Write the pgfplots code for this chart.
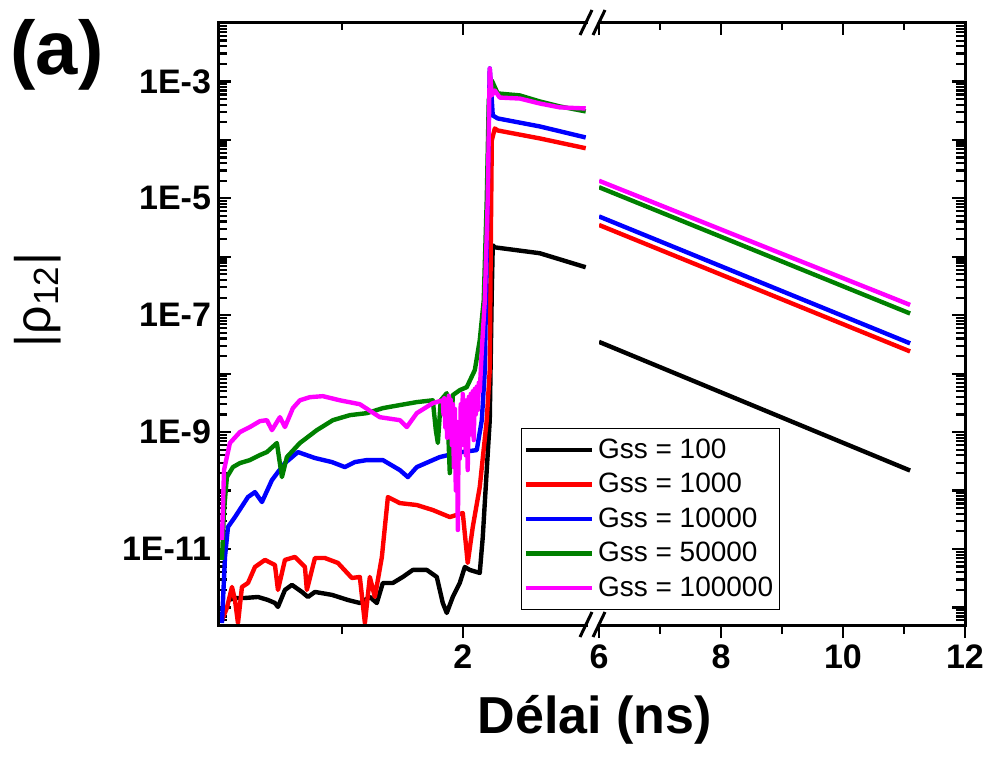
\documentclass[border=0pt]{standalone}
\usepackage{fontspec}
\setmainfont{Liberation Sans}
\usepackage{pgfplots}
\pgfplotsset{compat=1.18}
\definecolor{dgreen}{RGB}{0,128,0}
\definecolor{mag}{RGB}{255,0,255}
\begin{document}
\begin{tikzpicture}
\useasboundingbox (0,0) rectangle (495.5pt,-380pt);
% ---------------- left panel ----------------
\begin{axis}[name=L, at={(109pt,-312.5pt)}, anchor=south west, scale only axis,
  width=185pt, height=301pt, ymode=log, ymin=5e-13, ymax=1e-2,
  xmin=-0.033, xmax=3.04, xtick={2}, xticklabels={2}, minor xtick={1},
  axis line style={draw=none},
  major tick style={black, line width=1.1pt},
  minor tick style={black, line width=1.1pt},
  major tick length=6.5pt, minor tick length=4.5pt,
  ytick={1e-12,1e-11,1e-10,1e-9,1e-8,1e-7,1e-6,1e-5,1e-4,1e-3,1e-2},
  yticklabels={,1E-11,,1E-9,,1E-7,,1E-5,,1E-3,},
  minor ytick={6e-13,7e-13,8e-13,9e-13,2e-12,3e-12,4e-12,5e-12,6e-12,7e-12,8e-12,9e-12,2e-11,3e-11,4e-11,5e-11,6e-11,7e-11,8e-11,9e-11,2e-10,3e-10,4e-10,5e-10,6e-10,7e-10,8e-10,9e-10,2e-9,3e-9,4e-9,5e-9,6e-9,7e-9,8e-9,9e-9,2e-8,3e-8,4e-8,5e-8,6e-8,7e-8,8e-8,9e-8,2e-7,3e-7,4e-7,5e-7,6e-7,7e-7,8e-7,9e-7,2e-6,3e-6,4e-6,5e-6,6e-6,7e-6,8e-6,9e-6,2e-5,3e-5,4e-5,5e-5,6e-5,7e-5,8e-5,9e-5,2e-4,3e-4,4e-4,5e-4,6e-4,7e-4,8e-4,9e-4,2e-3,3e-3,4e-3,5e-3,6e-3,7e-3,8e-3,9e-3},
  ytick align=inside, ytick pos=left,
  xtick align=outside, xtick pos=left,
  ticklabel style={font=\bfseries\fontsize{17}{17}\selectfont},
  every axis plot/.append style={line width=2.2pt, line join=round}]
\addplot[black] coordinates {(0.050,1.34e-12)(0.116,1.45e-12)(0.191,1.45e-12)(0.299,1.51e-12)(0.382,1.34e-12)(0.440,1.19e-12)(0.465,1.02e-12)(0.523,1.99e-12)(0.581,2.43e-12)(0.664,1.84e-12)(0.714,1.51e-12)(0.772,1.84e-12)(0.913,1.64e-12)(1.046,1.34e-12)(1.145,1.19e-12)(1.228,1.51e-12)(1.286,1.19e-12)(1.336,2.62e-12)(1.419,2.62e-12)(1.502,3.32e-12)(1.585,4.38e-12)(1.701,4.38e-12)(1.784,3.32e-12)(1.834,1.19e-12)(1.867,8.05e-13)(1.917,1.51e-12)(1.975,2.62e-12)(2.017,4.92e-12)(2.058,4.38e-12)(2.141,3.89e-12)(2.166,1.6e-11)(2.199,2.24e-10)(2.224,1.6e-9)(2.241,2.67e-7)(2.249,1.57e-6)(2.266,1.45e-6)(2.639,1.15e-6)(3.021,6.62e-7)};
\addplot[red] coordinates {(0,6.1e-13)(0.041,9.8e-13)(0.083,2.24e-12)(0.108,1.34e-12)(0.133,5.4e-13)(0.166,2.24e-12)(0.216,2.62e-12)(0.274,4.92e-12)(0.357,6.5e-12)(0.440,5.32e-12)(0.465,1.99e-12)(0.523,6.5e-12)(0.606,7.3e-12)(0.689,4.92e-12)(0.705,1.99e-12)(0.772,7.0e-12)(0.855,7.0e-12)(0.963,5.77e-12)(1.079,3.19e-12)(1.145,3.32e-12)(1.187,5.4e-13)(1.228,3.32e-12)(1.270,1.51e-12)(1.328,7.3e-12)(1.378,7.74e-11)(1.477,6.1e-11)(1.618,5.65e-11)(1.751,4.64e-11)(1.892,3.52e-11)(2.0,4.12e-11)(2.041,5.77e-12)(2.083,2.38e-11)(2.141,1.15e-10)(2.199,1.6e-9)(2.224,1.15e-8)(2.232,1.29e-6)(2.241,9.8e-5)(2.266,1.57e-4)(2.290,1.45e-4)(2.639,1.06e-4)(3.021,7.2e-5)};
\addplot[blue] coordinates {(0,5.4e-13)(0.025,7.3e-12)(0.050,2.38e-11)(0.108,3.52e-11)(0.216,7.74e-11)(0.274,9.4e-11)(0.332,6.36e-11)(0.415,1.51e-10)(0.465,2.07e-10)(0.523,2.95e-10)(0.631,4.55e-10)(0.772,3.6e-10)(0.913,3.07e-10)(1.021,2.52e-10)(1.104,3.07e-10)(1.203,3.32e-10)(1.336,3.32e-10)(1.477,2.24e-10)(1.544,1.7e-10)(1.618,2.52e-10)(1.751,3.32e-10)(1.809,3.74e-10)(1.975,4.5e-10)(2.116,4.92e-10)(2.158,1.6e-9)(2.183,1.15e-8)(2.199,1.29e-6)(2.216,2.15e-4)(2.224,1.67e-3)(2.249,2.62e-4)(2.290,2.33e-4)(2.639,1.7e-4)(3.021,1.1e-4)};
\addplot[dgreen] coordinates {(0,6.5e-12)(0.017,4.6e-11)(0.041,1.7e-10)(0.091,2.52e-10)(0.149,2.95e-10)(0.232,3.32e-10)(0.315,4.05e-10)(0.373,4.55e-10)(0.456,6.5e-10)(0.498,1.7e-10)(0.539,3.74e-10)(0.647,6.5e-10)(0.788,1.08e-9)(0.921,1.6e-9)(1.062,1.95e-9)(1.203,2.11e-9)(1.336,2.57e-9)(1.477,2.9e-9)(1.618,3.26e-9)(1.751,3.5e-9)(1.776,1.08e-9)(1.793,6.5e-10)(1.817,3.5e-9)(1.867,4.64e-9)(1.892,1.99e-10)(1.917,4.29e-9)(1.975,5.22e-9)(2.033,5.88e-9)(2.100,1.15e-8)(2.141,3.74e-8)(2.174,1.8e-7)(2.199,9.2e-6)(2.216,4.73e-4)(2.241,1.04e-3)(2.290,6.24e-4)(2.473,5.77e-4)(2.639,4.55e-4)(2.805,3.74e-4)(3.021,3.07e-4)};
\addplot[mag] coordinates {(0,1.43e-11)(0.017,2.24e-10)(0.066,6.5e-10)(0.149,1.0e-9)(0.232,1.22e-9)(0.315,1.54e-9)(0.373,1.6e-9)(0.415,1.08e-9)(0.481,1.8e-9)(0.523,1.22e-9)(0.589,2.57e-9)(0.647,3.5e-9)(0.730,3.96e-9)(0.838,4.12e-9)(0.979,3.5e-9)(1.145,3.0e-9)(1.311,1.8e-9)(1.477,1.6e-9)(1.535,1.22e-9)(1.618,2.11e-9)(1.751,3.13e-9)(1.834,3.5e-9)(1.840,2.0e-9)(1.846,3.8e-9)(1.855,1.2e-9)(1.862,3.2e-9)(1.870,8e-10)(1.876,1.6e-9)(1.884,4.2e-9)(1.892,1.0e-9)(1.900,3.6e-9)(1.909,6e-10)(1.918,3.0e-9)(1.926,2.5e-10)(1.934,2.5e-9)(1.942,1e-10)(1.950,1.5e-9)(1.959,2.11e-11)(1.966,1.2e-9)(1.975,3.5e-10)(1.983,3.0e-9)(1.992,6e-10)(2.000,4.5e-9)(2.008,8e-10)(2.017,3.5e-9)(2.025,4e-10)(2.033,3.5e-9)(2.041,2.24e-10)(2.050,4.0e-9)(2.058,9e-10)(2.066,4.5e-9)(2.075,1.2e-9)(2.083,5e-9)(2.091,7.3e-10)(2.100,5.5e-9)(2.108,2e-9)(2.116,6e-9)(2.125,2.4e-9)(2.133,7e-9)(2.141,5e-9)(2.158,2.52e-8)(2.183,1.8e-7)(2.207,9.2e-6)(2.224,1.67e-3)(2.241,5.77e-4)(2.266,7.0e-4)(2.307,5.3e-4)(2.473,5.1e-4)(2.639,4.2e-4)(2.805,3.6e-4)(3.021,3.45e-4)};
\end{axis}
\begin{axis}[at={(109pt,-312.5pt)}, anchor=south west, scale only axis,
  width=185pt, height=301pt, ymin=0, ymax=1, xmin=-0.033, xmax=3.04,
  axis line style={draw=none},
  major tick style={black, line width=1.1pt}, minor tick style={black, line width=1.1pt},
  major tick length=6pt, minor tick length=3.5pt,
  ytick=\empty, xtick pos=right, xtick align=inside, xtick={2}, minor xtick={1}, xticklabels={}]
\end{axis}
% ---------------- right panel ----------------
\begin{axis}[name=R, at={(299.5pt,-312.5pt)}, anchor=south west, scale only axis,
  width=183pt, height=301pt, ymode=log, ymin=5e-13, ymax=1e-2,
  xmin=6, xmax=12, xtick={6,8,10,12}, xticklabels={6,8,10,12}, minor xtick={7,9,11},
  axis line style={draw=none},
  major tick style={black, line width=1.1pt},
  minor tick style={black, line width=1.1pt},
  major tick length=6.5pt, minor tick length=4.5pt,
  ytick={1e-12,1e-11,1e-10,1e-9,1e-8,1e-7,1e-6,1e-5,1e-4,1e-3,1e-2},
  minor ytick={6e-13,7e-13,8e-13,9e-13,2e-12,3e-12,4e-12,5e-12,6e-12,7e-12,8e-12,9e-12,2e-11,3e-11,4e-11,5e-11,6e-11,7e-11,8e-11,9e-11,2e-10,3e-10,4e-10,5e-10,6e-10,7e-10,8e-10,9e-10,2e-9,3e-9,4e-9,5e-9,6e-9,7e-9,8e-9,9e-9,2e-8,3e-8,4e-8,5e-8,6e-8,7e-8,8e-8,9e-8,2e-7,3e-7,4e-7,5e-7,6e-7,7e-7,8e-7,9e-7,2e-6,3e-6,4e-6,5e-6,6e-6,7e-6,8e-6,9e-6,2e-5,3e-5,4e-5,5e-5,6e-5,7e-5,8e-5,9e-5,2e-4,3e-4,4e-4,5e-4,6e-4,7e-4,8e-4,9e-4,2e-3,3e-3,4e-3,5e-3,6e-3,7e-3,8e-3,9e-3},
  yticklabels={},
  ytick align=inside, ytick pos=right,
  xtick align=outside, xtick pos=left,
  ticklabel style={font=\bfseries\fontsize{17}{17}\selectfont},
  every axis plot/.append style={line width=2.2pt, line join=round},
  legend style={at={(-0.213,0.327)}, anchor=north west, draw=black, line width=0.6pt,
    fill=white, font=\fontsize{14}{16}\selectfont, inner xsep=1pt, inner ysep=3pt,
    row sep=2pt},
  legend cell align=left,
  legend image code/.code={\draw[#1, line width=2.2pt] (0pt,0pt) -- (33pt,0pt);}]
\addplot[black] coordinates {(6,3.5e-8)(11.1,2.2e-10)};
\addlegendentry{Gss = 100}
\addplot[red] coordinates {(6,3.5e-6)(11.1,2.4e-8)};
\addlegendentry{Gss = 1000}
\addplot[blue] coordinates {(6,4.9e-6)(11.1,3.3e-8)};
\addlegendentry{Gss = 10000}
\addplot[dgreen] coordinates {(6,1.55e-5)(11.1,1.07e-7)};
\addlegendentry{Gss = 50000}
\addplot[mag] coordinates {(6,2.0e-5)(11.1,1.5e-7)};
\addlegendentry{Gss = 100000}
\end{axis}
\begin{axis}[at={(299.5pt,-312.5pt)}, anchor=south west, scale only axis,
  width=183pt, height=301pt, ymin=0, ymax=1, xmin=6, xmax=12,
  axis line style={draw=none},
  major tick style={black, line width=1.1pt}, minor tick style={black, line width=1.1pt},
  major tick length=6pt, minor tick length=3.5pt,
  ytick=\empty, xtick pos=right, xtick align=inside, xtick={6,8,10,12}, minor xtick={7,9,11}, xticklabels={}]
\end{axis}
% frame lines
\draw[line width=1.5pt] (L.south east) -- (L.south west) -- (L.north west) -- (L.north east);
\draw[line width=1.5pt] (R.south west) -- (R.south east) -- (R.north east) -- (R.north west);
% break marks
\foreach \yy in {-11.5,-312.5}{
  \draw[line width=1.5pt] (290pt,\yy pt-6pt) -- (296pt,\yy pt+6.5pt);
  \draw[line width=1.5pt] (296.5pt,\yy pt-6pt) -- (302.5pt,\yy pt+6.5pt);
}
% labels
\node[font=\bfseries\fontsize{38}{38}\selectfont] at (28.5pt,-27.5pt) {(a)};
\node[font=\fontsize{25}{25}\selectfont, rotate=90] at (19pt,-150pt) {|ρ\textsubscript{12}|};
\node[font=\bfseries\fontsize{26}{26}\selectfont] at (297.5pt,-360pt) {Délai (ns)};
\end{tikzpicture}
\end{document}
